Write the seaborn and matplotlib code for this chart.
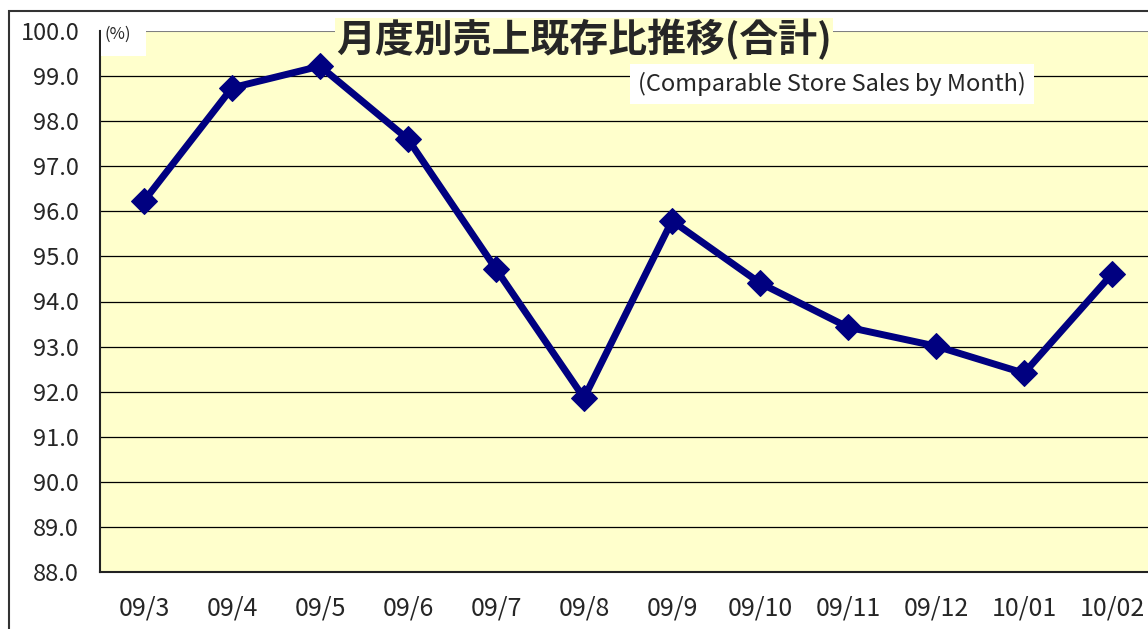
import matplotlib
matplotlib.use("Agg")
import matplotlib.pyplot as plt
import seaborn as sns
import pandas as pd
import numpy as np
from matplotlib.patches import Rectangle

months = ["09/3", "09/4", "09/5", "09/6", "09/7", "09/8",
          "09/9", "09/10", "09/11", "09/12", "10/01", "10/02"]
ratio = [96.23, 98.74, 99.22, 97.60, 94.72, 91.86,
         95.79, 94.41, 93.43, 93.01, 92.41, 94.61]
y_ticks = [88.0, 89.0, 90.0, 91.0, 92.0, 93.0, 94.0, 95.0, 96.0, 97.0, 98.0, 99.0, 100.0]

title = "月度別売上既存比推移(合計)"
subtitle = "(Comparable Store Sales by Month)"

sns.set_style("white")
plt.rcParams['font.family'] = ['Noto Sans CJK JP', 'DejaVu Sans']

df = pd.DataFrame({"idx": np.arange(len(months)), "ratio": ratio})

fig = plt.figure(figsize=(11.48, 6.29), dpi=100)
ax = fig.add_axes([100 / 1148, 1 - 572 / 629, 1056 / 1148, 541 / 629])
ax.set_facecolor("#FFFFCC")

# grid lines
for v in y_ticks[1:-1]:
    ax.axhline(v, color="black", lw=0.9, zorder=1)
ax.axhline(100.0, color="#808080", lw=1.5, zorder=1)

sns.lineplot(data=df, x="idx", y="ratio", ax=ax, color="#000080", lw=5,
             marker="D", markersize=13, markeredgecolor="#000080", zorder=3)

ax.set_xlim(-0.5, len(months) - 0.5)
ax.set_ylim(88.0, 100.0)
ax.set_yticks(y_ticks)
ax.set_yticklabels([f"{v:.1f}" for v in y_ticks], fontsize=17)
ax.set_xticks(np.arange(len(months)))
ax.set_xticklabels(months, fontsize=18)
ax.set_xticks(np.arange(len(months) - 1) + 0.5, minor=True)
ax.tick_params(axis="x", which="major", length=0, pad=17)
ax.tick_params(axis="x", which="minor", direction="in", length=6, width=1, color="#333333")
ax.tick_params(axis="y", length=0, pad=15)
ax.set_xlabel("")
ax.set_ylabel("")

for s in ["top", "right"]:
    ax.spines[s].set_visible(False)
for s in ["left", "bottom"]:
    ax.spines[s].set_color("#222222")
    ax.spines[s].set_linewidth(1.5)

# figure frame
fig.patches.append(Rectangle((9 / 1148, -0.1), 1.2, 1 - 11 / 629 + 0.1,
                             transform=fig.transFigure, fill=False,
                             edgecolor="#333333", lw=1.5))

fig.patches.append(Rectangle((101 / 1148, 1 - 56 / 629), 45 / 1148, 34 / 629,
                             transform=fig.transFigure, facecolor="white",
                             edgecolor="none", zorder=5))
fig.text(118 / 1148, 1 - 34 / 629, "(%)", fontsize=12, ha="center", va="center", zorder=6)
fig.text(584 / 1148, 1 - 40 / 629, title, fontsize=28, fontweight="bold",
         ha="center", va="center",
         bbox=dict(facecolor="#FFFFCC", edgecolor="none", pad=1))
fig.text(832 / 1148, 1 - 84 / 629, subtitle, fontsize=17, ha="center", va="center",
         bbox=dict(facecolor="white", edgecolor="none", pad=6))

fig.savefig("out.png", dpi=100)
